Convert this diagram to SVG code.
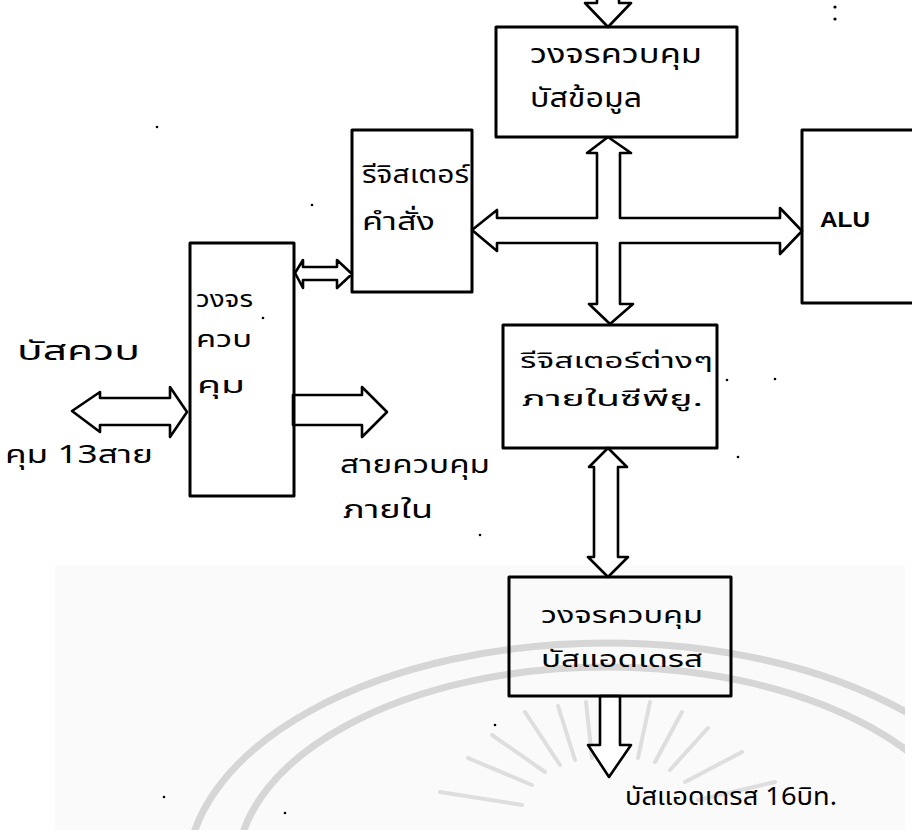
<svg xmlns="http://www.w3.org/2000/svg" width="912" height="830" viewBox="0 0 912 830">
<style>
  .box { fill: none; stroke: #000; stroke-width: 3; stroke-linejoin: round; }
  .bus { fill: #fff; stroke: #000; stroke-width: 2.6; stroke-linejoin: round; }
  .th { font-family: "Noto Sans Thai", "Noto Sans", "DejaVu Sans", sans-serif; fill: #000; }
  .en { font-family: "Liberation Sans", Arial, sans-serif; fill: #000; font-weight: bold; }
  .wm { fill: none; stroke: #d6d6d6; stroke-width: 7; }
  .ray { stroke: #dedede; stroke-width: 4; stroke-linecap: round; }
  .dot { fill: #000; }
</style>
<defs>
  <clipPath id="wmclip"><rect x="55" y="565" width="850" height="265"/></clipPath>
</defs>
<rect x="0" y="0" width="912" height="830" fill="#fff"/>
<g id="watermark">
  <rect x="55" y="565" width="850" height="265" fill="#fafafa"/>
  <g clip-path="url(#wmclip)">
    <ellipse class="wm" cx="607" cy="875" rx="420" ry="232"/>
    <ellipse class="wm" cx="607" cy="869" rx="370" ry="202"/>
  </g>
  <g>
    <line class="ray" x1="560" y1="765" x2="525" y2="712"/>
    <line class="ray" x1="575" y1="760" x2="558" y2="706"/>
    <line class="ray" x1="592" y1="758" x2="586" y2="702"/>
    <line class="ray" x1="638" y1="758" x2="650" y2="702"/>
    <line class="ray" x1="655" y1="762" x2="682" y2="712"/>
    <line class="ray" x1="670" y1="770" x2="708" y2="728"/>
    <line class="ray" x1="545" y1="772" x2="492" y2="735"/>
    <line class="ray" x1="532" y1="785" x2="468" y2="758"/>
    <line class="ray" x1="685" y1="782" x2="742" y2="752"/>
    <line class="ray" x1="522" y1="805" x2="440" y2="792"/>
    <line class="ray" x1="698" y1="800" x2="775" y2="782"/>
  </g>
</g>

<g id="connectors">
  <polygon class="bus" points="597,-6 597,3 585,3 608,27 631,3 619,3 619,-6"/>
  <polygon class="bus" points="608,137 631,153 620,153 620,218 780,218 780,208 802,231 780,254 780,243 620,243 620,304 633,304 610,324 589,304 597,304 597,243 497,243 497,251 472,230 497,210 497,218 597,218 597,153 587,153"/>
  <polygon class="bus" points="608,448 627,467 618,467 618,557 628,557 608,577 588,557 594,557 594,467 589,467"/>
  <polygon class="bus" points="600,696 600,745 588,745 609,777 631,745 620,745 620,696"/>
  <polygon class="bus" points="295,273 303,260 303,267 337,267 337,260 352,274 337,288 337,280 303,280 303,288"/>
  <polygon class="bus" points="72,411 100,392 100,398 170,398 170,387 187,412 170,437 170,425 100,425 100,432"/>
  <polygon class="bus" points="293,395 362,395 362,387 387,412 362,437 362,425 293,425"/>
</g>

<g id="data-bus-control">
  <rect class="box" x="496" y="27" width="241" height="110"/>
  <text class="th" x="530" y="63" font-size="27" textLength="172" lengthAdjust="spacingAndGlyphs">วงจรควบคุม</text>
  <text class="th" x="530" y="107" font-size="27" textLength="112" lengthAdjust="spacingAndGlyphs">บัสข้อมูล</text>
</g>

<g id="instruction-register">
  <rect class="box" x="352" y="130" width="120" height="162"/>
  <text class="th" x="362" y="183" font-size="25" textLength="107" lengthAdjust="spacingAndGlyphs">รีจิสเตอร์</text>
  <text class="th" x="362" y="230" font-size="25" textLength="73" lengthAdjust="spacingAndGlyphs">คำสั่ง</text>
</g>

<g id="alu">
  <rect class="box" x="802" y="130" width="120" height="173"/>
  <text class="en" x="820" y="227" font-size="22" textLength="50" lengthAdjust="spacingAndGlyphs">ALU</text>
</g>

<g id="control-circuit">
  <rect class="box" x="190" y="243" width="104" height="253"/>
  <text class="th" x="196" y="307" font-size="23" textLength="57" lengthAdjust="spacingAndGlyphs">วงจร</text>
  <text class="th" x="196" y="347" font-size="23" textLength="56" lengthAdjust="spacingAndGlyphs">ควบ</text>
  <text class="th" x="197" y="393" font-size="23" textLength="48" lengthAdjust="spacingAndGlyphs">คุม</text>
</g>

<g id="registers">
  <rect class="box" x="503" y="325" width="214" height="123"/>
  <text class="th" x="520" y="368" font-size="22" textLength="193" lengthAdjust="spacingAndGlyphs">รีจิสเตอร์ต่างๆ</text>
  <text class="th" x="522" y="406" font-size="22" textLength="181" lengthAdjust="spacingAndGlyphs">ภายในซีพียู.</text>
</g>

<g id="address-bus-control">
  <rect class="box" x="509" y="577" width="222" height="119"/>
  <text class="th" x="541" y="623" font-size="23" textLength="162" lengthAdjust="spacingAndGlyphs">วงจรควบคุม</text>
  <text class="th" x="541" y="667" font-size="23" textLength="162" lengthAdjust="spacingAndGlyphs">บัสแอดเดรส</text>
</g>

<g id="labels">
  <text class="th" x="17" y="360" font-size="26" textLength="123" lengthAdjust="spacingAndGlyphs">บัสควบ</text>
  <text class="th" x="5" y="463" font-size="25" textLength="148" lengthAdjust="spacingAndGlyphs">คุม 13สาย</text>
  <text class="th" x="340" y="473" font-size="25" textLength="150" lengthAdjust="spacingAndGlyphs">สายควบคุม</text>
  <text class="th" x="343" y="518" font-size="25" textLength="90" lengthAdjust="spacingAndGlyphs">ภายใน</text>
  <text class="th" x="625" y="805" font-size="25" textLength="212" lengthAdjust="spacingAndGlyphs">บัสแอดเดรส 16บิท.</text>
</g>

<g id="specks">
  <circle class="dot" cx="835" cy="7" r="1.6"/>
  <circle class="dot" cx="835" cy="19" r="1.6"/>
  <circle class="dot" cx="157" cy="127" r="1.3"/>
  <circle class="dot" cx="312" cy="205" r="1.3"/>
  <circle class="dot" cx="263" cy="318" r="1.3"/>
  <circle class="dot" cx="727" cy="380" r="1.3"/>
  <circle class="dot" cx="775" cy="379" r="1.3"/>
  <circle class="dot" cx="738" cy="457" r="1.3"/>
  <circle class="dot" cx="480" cy="535" r="1.3"/>
  <circle class="dot" cx="495" cy="725" r="1.3"/>
  <circle class="dot" cx="164" cy="797" r="1.3"/>
  <circle class="dot" cx="285" cy="813" r="1.3"/>
</g>
</svg>
